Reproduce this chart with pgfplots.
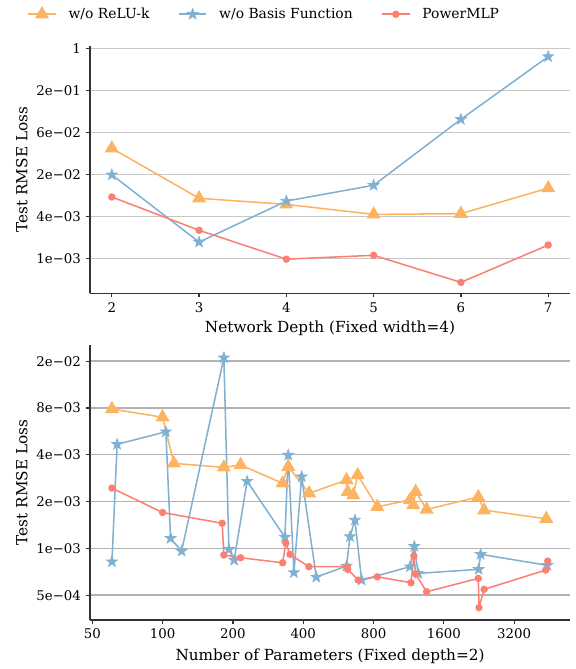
\documentclass[border=0pt]{standalone}
\usepackage{fontspec}
\setmainfont{DejaVu Serif}
\usepackage{pgfplots}
\pgfplotsset{compat=1.18}
\definecolor{corange}{HTML}{FDB462}
\definecolor{cblue}{HTML}{80B1D3}
\definecolor{cred}{HTML}{FB8072}
\pgfdeclareplotmark{fstar}{%
 \pgfpathmoveto{\pgfpointpolar{90}{\pgfplotmarksize}}%
 \pgfpathlineto{\pgfpointpolar{126}{0.4*\pgfplotmarksize}}%
 \pgfpathlineto{\pgfpointpolar{162}{\pgfplotmarksize}}%
 \pgfpathlineto{\pgfpointpolar{198}{0.4*\pgfplotmarksize}}%
 \pgfpathlineto{\pgfpointpolar{234}{\pgfplotmarksize}}%
 \pgfpathlineto{\pgfpointpolar{270}{0.4*\pgfplotmarksize}}%
 \pgfpathlineto{\pgfpointpolar{306}{\pgfplotmarksize}}%
 \pgfpathlineto{\pgfpointpolar{342}{0.4*\pgfplotmarksize}}%
 \pgfpathlineto{\pgfpointpolar{18}{\pgfplotmarksize}}%
 \pgfpathlineto{\pgfpointpolar{54}{0.4*\pgfplotmarksize}}%
 \pgfpathclose
 \pgfusepathqfillstroke}
\pgfplotsset{
 base/.style={
  width=345.6pt, scale only axis,
  axis x line*=bottom, axis y line*=left,
  tick align=outside, major tick length=3pt,
  axis line style={black!80,line width=0.9pt},
  tick style={black!80,line width=0.9pt},
  minor tick style={draw=none},
  ymajorgrids, major grid style={black!22,line width=1pt},
  ylabel={Test RMSE Loss},
  ylabel style={at={(axis description cs:-0.142,0.5)},anchor=center},
  font=\fontsize{11}{13}\selectfont,
  ticklabel style={font=\fontsize{9.6}{11}\selectfont},
 },
 sO/.style={color=corange,line width=1.1pt,mark=triangle*,mark size=4.8pt,mark options={solid}},
 sB/.style={color=cblue,line width=1.1pt,mark=fstar,mark size=4pt,mark options={solid,line width=0.6pt}},
 sR/.style={color=cred,line width=1.1pt,mark=*,mark size=2.1pt,mark options={solid}},
}
\begin{document}
\begin{tikzpicture}
\path[use as bounding box] (-64.8pt,-35.28pt) rectangle (349.92pt,446.4pt);
% top axis
\begin{axis}[base, at={(0pt,235.2pt)}, height=178.1pt,
 xmin=1.75, xmax=7.25, ymode=log, ymin=3.206e-4, ymax=1.094,
 xtick={2,3,4,5,6,7}, xticklabels={2,3,4,5,6,7},
 ytick={0.001,0.003981,0.01585,0.0631,0.2512,1},
 yticklabels={1e−03,4e−03,2e−02,6e−02,2e−01,1},
 xlabel={Network Depth (Fixed width=4)},
 xlabel style={at={(axis description cs:0.5,-0.1415)},anchor=center},
 legend style={at={(axis description cs:-0.131,1.129)},anchor=west,draw=none,fill=none,inner sep=0pt,
   column sep=0pt, nodes={inner sep=0pt},
   font=\fontsize{10}{12}\selectfont},
 legend columns=3, legend cell align=left,
 legend image code/.code={\draw[mark repeat=2,mark phase=2] plot coordinates {(0cm,0cm) (0.35cm,0cm) (0.7cm,0cm)};},
]
\addplot[sO] coordinates {(2,0.0378)(3,0.0073)(4,0.00598)(5,0.0043)(6,0.0044)(7,0.0102)};
\addlegendentry{\kern8.6pt w/o ReLU-k\kern20.5pt}
\addplot[sB] coordinates {(2,0.0158)(3,0.00173)(4,0.00667)(5,0.0112)(6,0.098)(7,0.77)};
\addlegendentry{\kern8.6pt w/o Basis Function\kern20.5pt}
\addplot[sR] coordinates {(2,0.00762)(3,0.00255)(4,0.000986)(5,0.00112)(6,0.00046)(7,0.00157)};
\addlegendentry{\kern8.6pt PowerMLP}
\end{axis}
% bottom axis
\begin{axis}[base, at={(0pt,0pt)}, height=198pt,
 xmode=log, log basis x=2, xmin=48.9, xmax=5548,
 ymode=log, ymin=3.46e-4, ymax=0.02032,
 xtick={50,100,200,400,800,1600,3200}, xticklabels={50,100,200,400,800,1600,3200},
 ytick={0.0005,0.001,0.002,0.004,0.008,0.016},
 yticklabels={5e−04,1e−03,2e−03,4e−03,8e−03,2e−02},
 major grid style={black!30,line width=1pt},
 xlabel={Number of Parameters (Fixed depth=2)},
 xlabel style={at={(axis description cs:0.5,-0.133)},anchor=center},
]
\addplot[sO] coordinates {
(60.7,0.00787)(100,0.00697)(111.8,0.00352)(183,0.00332)(215.8,0.00344)
(326.5,0.00262)(345,0.00335)(424,0.00226)(613,0.00275)(620,0.00231)
(655,0.0022)(684,0.00296)(830,0.00185)(1146,0.00205)(1183,0.0019)
(1212,0.00231)(1350,0.00178)(2247,0.00214)(2380,0.00176)(4392,0.00155)};
\addplot[sB] coordinates {
(60.7,0.00082)(63.9,0.00467)(103.3,0.00562)(108.2,0.00116)(120.6,0.00096)
(183,0.01682)(192.3,0.000985)(202.5,0.00084)(230,0.0027)(334,0.00118)
(345,0.00398)(365,0.000699)(394,0.00289)(455,0.000653)(613,0.000769)
(634,0.00119)(666,0.00152)(711,0.000625)(1146,0.000762)(1195,0.00103)
(1243,0.00069)(2255,0.000733)(2299,0.000915)(4434,0.000778)};
\addplot[sR] coordinates {
(60.7,0.00244)(100,0.0017)(180,0.00145)(183,0.000906)(215.8,0.00087)
(326.5,0.000808)(337,0.00108)(351,0.000915)(423,0.000762)(617,0.000762)
(620,0.000733)(688,0.000625)(830,0.000656)(1157,0.000601)(1191,0.000893)
(1212,0.000684)(1350,0.000526)(2247,0.000641)(2262,0.000416)(2380,0.000545)
(4366,0.000725)(4453,0.000828)};
\end{axis}
\end{tikzpicture}
\end{document}
